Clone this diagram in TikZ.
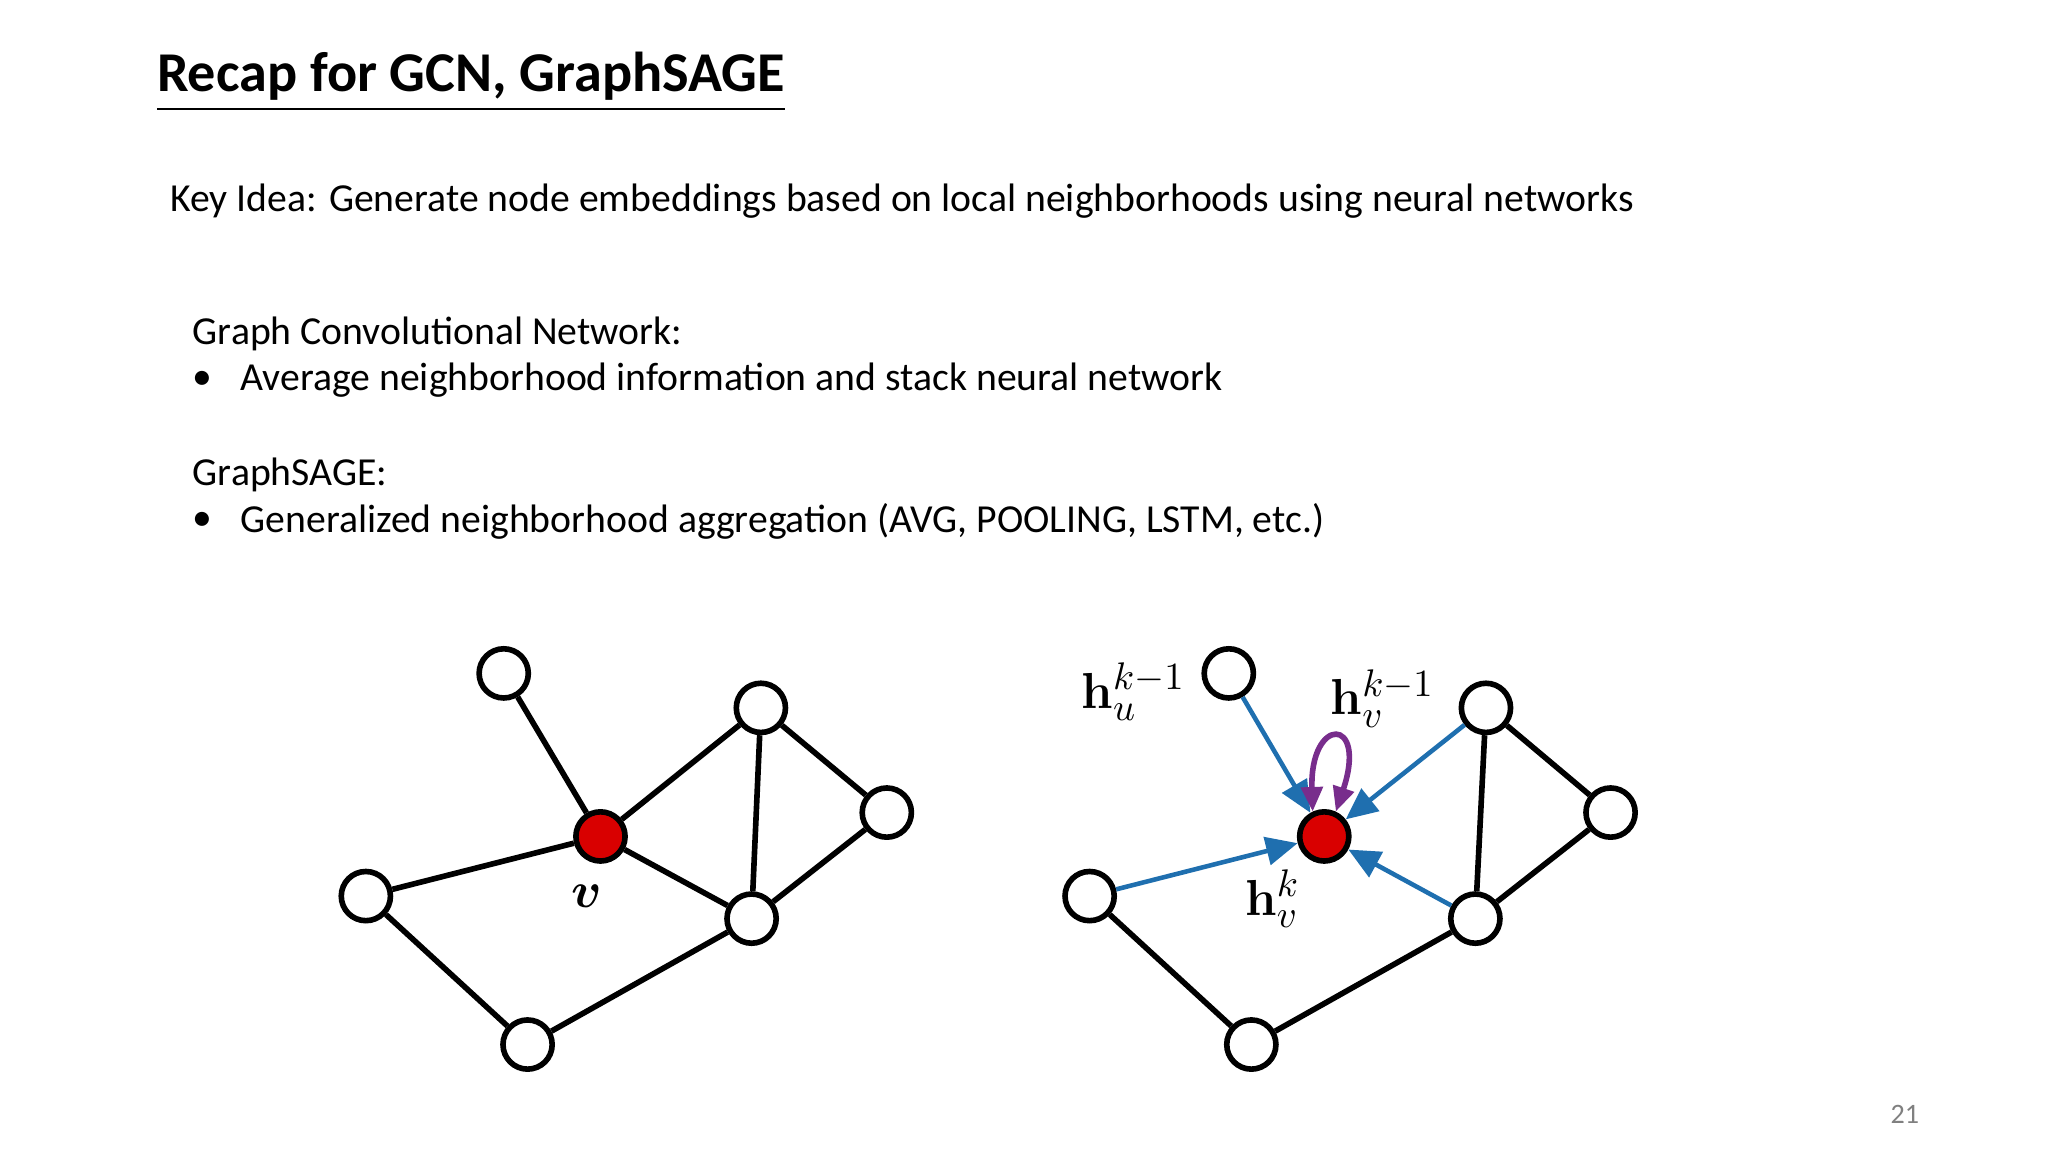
\documentclass[tikz,border=0pt]{standalone}
\usepackage[no-math]{fontspec}
\usepackage{amsmath,bm}
\setmainfont{Carlito}
\usetikzlibrary{arrows.meta}

\tikzset{
    vtx/.style={circle, draw=black, line width=1.6pt, fill=white, minimum size=14pt, inner sep=0pt},
    center/.style={vtx, fill=red!85!black},
    edge/.style={line width=1.6pt, black},
    msg/.style={line width=1.3pt, draw={rgb,255:red,31;green,111;blue,175}, -{Triangle[length=9pt,width=8pt]}},
    self/.style={line width=1.6pt, draw={rgb,255:red,120;green,45;blue,140}, {Triangle[length=7pt,width=6pt]}-{Triangle[length=7pt,width=6pt]}},
    body/.style={font=\fontsize{11.3}{13}\selectfont, anchor=west, inner sep=0pt},
    hlab/.style={font=\fontsize{15}{18}\selectfont, inner sep=0pt}
}

\begin{document}
\begin{tikzpicture}[x=0.013256cm, y=-0.013256cm]
    \useasboundingbox (0,0) rectangle (1545,870);

    % text
    \node[body, font=\fontsize{16}{19}\selectfont\bfseries] (title) at (118,62) {\underline{Recap for GCN, GraphSAGE}};
    \node[body] (key) at (128,152) {Key Idea: Generate node embeddings based on local neighborhoods using neural networks};
    \node[body] (gcn) at (145,252) {Graph Convolutional Network:};
    \node[body] (gcnbul) at (145,287) {•};
    \node[body] (gcnb) at (181,287) {Average neighborhood information and stack neural network};
    \node[body] (sage) at (145,358) {GraphSAGE:};
    \node[body] (sagebul) at (145,393) {•};
    \node[body] (sageb) at (181,393) {Generalized neighborhood aggregation (AVG, POOLING, LSTM, etc.)};
    \node[font=\fontsize{8}{10}\selectfont, text=gray] (page) at (1437,841) {21};

    % left graph
    \node[vtx] (lt) at (380,508) {};
    \node[center] (lv) at (453,631) {};
    \node[vtx] (lb) at (574,534) {};
    \node[vtx] (lc) at (669,613) {};
    \node[vtx] (ld) at (567,693) {};
    \node[vtx] (le) at (276,676) {};
    \node[vtx] (lf) at (398,788) {};
    \draw[edge] (lt) -- (lv) (lv) -- (lb) (lv) -- (le) (lv) -- (ld)
        (lb) -- (ld) (lb) -- (lc) (lc) -- (ld) (le) -- (lf) (lf) -- (ld);
    \node[hlab] (vlab) at (443,676) {$\bm{v}$};

    % right graph
    \node[vtx] (ru) at (927,508) {};
    \node[center] (rv) at (999,631) {};
    \node[vtx] (rb) at (1121,534) {};
    \node[vtx] (rc) at (1215,613) {};
    \node[vtx] (rd) at (1113,693) {};
    \node[vtx] (re) at (822,676) {};
    \node[vtx] (rf) at (944,788) {};
    \draw[edge] (rb) -- (rd) (rb) -- (rc) (rc) -- (rd) (re) -- (rf) (rf) -- (rd);
    \draw[msg] (ru) -- (rv);
    \draw[msg] (rb) -- (rv);
    \draw[msg] (re) -- (rv);
    \draw[msg] (rd) -- (rv);
    \draw[self] (rv.115) .. controls (988,540) and (1032,540) .. (rv.65);
    \node[hlab] (hu) at (855,522) {$\mathbf{h}_u^{k-1}$};
    \node[hlab] (hv) at (1043,527) {$\mathbf{h}_v^{k-1}$};
    \node[hlab] (hk) at (960,678) {$\mathbf{h}_v^{k}$};
\end{tikzpicture}
\end{document}
